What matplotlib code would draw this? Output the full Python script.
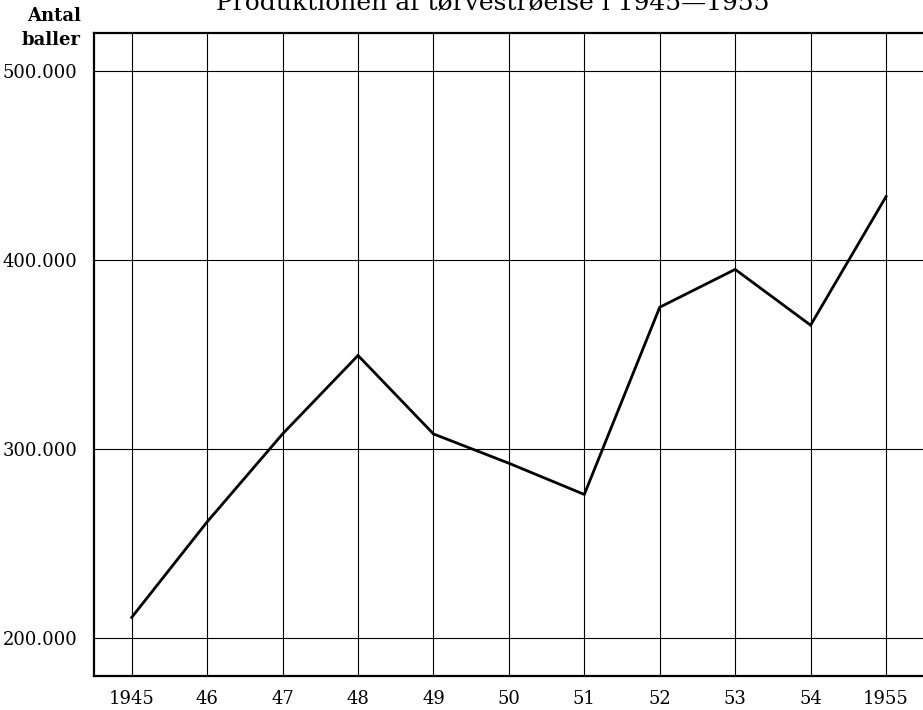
import matplotlib
matplotlib.use('Agg')
import matplotlib.pyplot as plt  # type: ignore
from matplotlib.ticker import FuncFormatter  # type: ignore

YEARS = [1945, 1946, 1947, 1948, 1949, 1950, 1951, 1952, 1953, 1954, 1955]
YEAR_LABELS = ['1945', '46', '47', '48', '49', '50', '51', '52', '53', '54', '1955']
BALES = [211000, 261500, 308000, 349500, 308000, 292500, 276000, 375000, 395000, 365500, 433500]
Y_TICKS = [200000, 300000, 400000, 500000]

TITLE = 'Produktionen af tørvestrøelse i 1945—1955'
Y_LABEL_LINES = ['Antal', 'baller']


def danish_thousands(value, _pos):
    return f'{int(value):,}'.replace(',', '.')


def draw_plot():
    plt.rcParams['font.family'] = ['DejaVu Serif']
    fig = plt.figure(figsize=(9.23, 7.10), dpi=100)
    ax = fig.add_axes([94 / 923, 1 - 676 / 710, 1 - 94 / 923, (676 - 33) / 710])

    ax.plot(YEARS, BALES, color='black', linewidth=2.0, solid_joinstyle='miter')

    ax.set_xlim(1944.5, 1955.49)
    ax.set_ylim(180000, 520000)
    ax.set_xticks(YEARS)
    ax.set_xticklabels(YEAR_LABELS)
    ax.set_yticks(Y_TICKS)
    ax.yaxis.set_major_formatter(FuncFormatter(danish_thousands))
    ax.tick_params(length=0, labelsize=13, colors='black')
    ax.tick_params(axis='x', pad=10)
    ax.tick_params(axis='y', pad=12)
    ax.grid(True, color='black', linewidth=0.8)

    ax.spines['right'].set_visible(False)
    for side in ('left', 'bottom', 'top'):
        ax.spines[side].set_linewidth(1.6)

    # titlen er beskåret i originalen, kun den nederste del ses
    fig.text(493 / 923, 1 - 9 / 710, TITLE, ha='center', va='baseline', fontsize=18)
    for line, baseline in zip(Y_LABEL_LINES, [21, 45]):
        fig.text(81 / 923, 1 - baseline / 710, line, ha='right', va='baseline',
                 fontsize=13, fontweight='bold')

    fig.savefig('out.png', dpi=100)


if __name__ == '__main__':
    draw_plot()
